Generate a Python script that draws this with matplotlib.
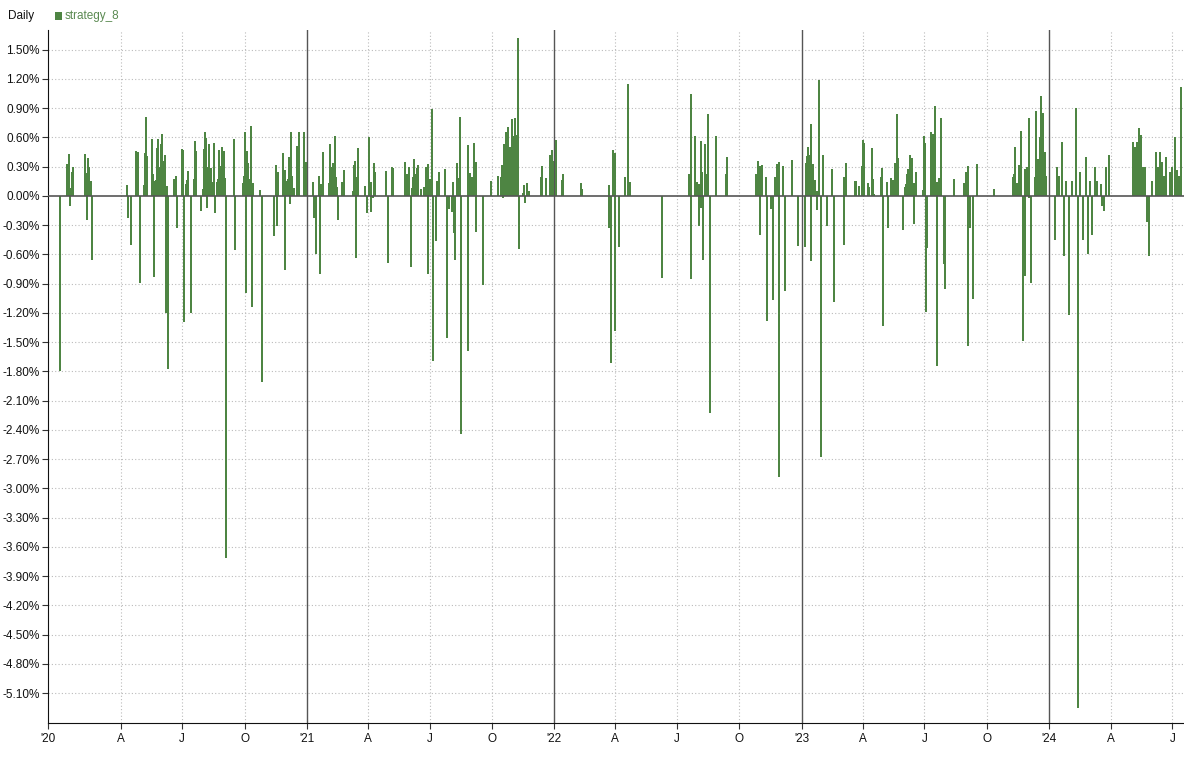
import numpy as np
import pandas as pd
import matplotlib
matplotlib.use('Agg')
import matplotlib.pyplot as plt
from matplotlib.patches import Rectangle

plt.rcParams['font.family'] = ['Liberation Sans', 'DejaVu Sans']

# 日收益 (%)，日期为距 2020-01-01 的天数
days_2020 = [1, 12, 14, 15, 17, 18, 20, 21, 39, 40, 42, 43, 45, 46, 48, 49,
             101, 102, 107, 114, 116, 117, 119, 126, 127, 129, 130, 138, 139, 141, 142, 144,
             145, 147, 148, 150, 151, 152, 154, 155, 157, 158, 160, 161, 170, 173, 175, 182,
             183, 185, 188, 189, 191, 195, 200, 201, 203, 210, 213, 214, 216, 217, 219, 220,
             222, 225, 226, 229, 231, 234, 235, 237, 238, 240, 241, 242, 244, 245, 247, 259,
             260, 271, 272, 273, 275, 276, 278, 279, 281, 282, 284, 285, 287, 297, 299, 318,
             321, 322, 324, 330, 331, 333, 334, 337, 338, 340, 341, 343, 344, 347, 352, 353,
             355, 362, 364, 365]
ret_2020 = [-1.80, 0.33, 0.30, 0.43, -0.10, 0.08, 0.24, 0.30, 0.43, 0.23, -0.25, 0.39, 0.30, 0.11, 0.15, -0.66,
            0.11, -0.23, -0.50, 0.46, 0.42, 0.45, -0.89, 0.11, 0.44, 0.81, 0.41, 0.58, 0.22, -0.83, 0.15, 0.16,
            0.49, 0.58, 0.30, 0.52, 0.53, 0.63, 0.30, 0.36, 0.42, -1.20, 0.10, -1.78, 0.17, 0.20, -0.33, 0.48,
            0.47, -1.29, 0.12, 0.16, 0.26, -1.20, 0.17, 0.56, 0.46, -0.15, 0.07, 0.48, 0.65, 0.59, -0.12, 0.30,
            0.53, 0.29, 0.14, 0.54, -0.18, 0.14, 0.17, 0.47, 0.31, 0.50, 0.31, 0.28, 0.46, 0.18, -3.71, 0.58,
            -0.55, 0.13, 0.13, 0.20, 0.65, -1.00, 0.46, 0.34, 0.17, 0.15, 0.72, -1.14, 0.13, 0.06, -1.91, -0.41,
            0.32, -0.31, 0.25, 0.10, 0.44, 0.27, -0.76, 0.15, 0.17, 0.40, -0.08, 0.65, 0.20, 0.08, 0.51, 0.34,
            0.65, 0.65, 0.35, 0.06]

days_2021 = [375, 377, 380, 384, 386, 387, 389, 399, 400, 402, 403, 405, 406, 408, 409, 411,
             412, 418, 420, 434, 436, 437, 439, 440, 442, 452, 454, 457, 458, 460, 461, 464,
             465, 467, 482, 483, 485, 491, 492, 493, 510, 511, 513, 516, 517, 519, 521, 523,
             524, 526, 527, 529, 530, 535, 539, 541, 542, 544, 545, 547, 548, 550, 551, 552,
             557, 558, 560, 561, 570, 572, 576, 580, 582, 583, 585, 588, 589, 591, 592, 594,
             603, 604, 607, 609, 610, 612, 613, 615, 616, 626, 637, 648, 653, 654, 656, 657,
             659, 660, 662, 663, 665, 666, 668, 669, 671, 673, 675, 676, 678, 679, 685, 687,
             688, 690, 691, 693, 712, 713, 718, 724, 725, 727, 728, 729]
ret_2021 = [0.14, -0.23, -0.60, 0.20, -0.80, 0.12, 0.45, 0.13, 0.53, 0.30, 0.12, 0.34, 0.14, 0.61, 0.19, 0.09,
            -0.25, 0.14, 0.27, 0.05, 0.32, 0.36, -0.64, 0.19, 0.49, 0.10, -0.18, 0.60, 0.06, -0.17, 0.14, -0.02,
            0.34, 0.25, 0.15, 0.26, -0.69, 0.18, 0.30, 0.29, 0.35, 0.12, 0.22, 0.24, 0.30, -0.73, 0.08, 0.19,
            0.38, 0.16, 0.22, 0.29, 0.32, 0.07, 0.09, 0.30, 0.23, -0.80, 0.33, 0.13, 0.17, 0.89, 0.24, -1.69,
            -0.46, 0.15, 0.14, 0.25, 0.28, -1.46, -0.13, -0.17, 0.14, -0.38, -0.66, 0.34, 0.13, 0.18, 0.81, -2.44,
            0.52, -1.59, 0.23, 0.19, 0.07, 0.36, 0.54, 0.35, -0.37, -0.91, 0.15, 0.20, 0.19, 0.32, -0.02, 0.53,
            0.42, 0.65, 0.52, 0.71, 0.18, 0.50, 0.11, 0.79, 0.61, 0.80, 0.40, 0.62, 1.62, -0.54, 0.03, 0.11,
            -0.07, 0.12, 0.13, 0.05, 0.19, 0.31, 0.18, 0.40, 0.42, 0.47, 0.31, 0.36]

days_2022 = [733, 734, 743, 744, 771, 772, 811, 812, 814, 817, 818, 820, 821, 827, 836, 840,
             842, 890, 930, 932, 933, 939, 941, 942, 944, 945, 947, 948, 949, 951, 954, 955,
             957, 958, 960, 970, 985, 986, 1029, 1031, 1032, 1034, 1035, 1037, 1038, 1044, 1045, 1050,
             1053, 1057, 1060, 1062, 1063, 1068, 1069, 1071, 1081, 1090]
ret_2022 = [0.57, 0.38, 0.16, 0.22, 0.13, 0.07, -0.33, 0.11, -1.71, 0.12, 0.47, 0.44, -1.39, -0.52, 0.19, 1.15,
            0.14, -0.84, 0.22, 1.04, -0.85, 0.61, 0.14, 0.14, -0.31, 0.12, 0.56, -0.12, 0.25, -0.66, 0.53, 0.22,
            0.75, 0.84, -2.23, 0.61, 0.22, 0.40, 0.22, 0.36, 0.11, 0.31, -0.40, 0.32, 0.26, 0.19, -1.28, -0.13,
            -1.07, 0.19, 0.33, 0.35, -2.88, 0.31, 0.12, -0.98, 0.37, -0.51]

days_2023 = [1101, 1103, 1104, 1106, 1107, 1109, 1110, 1112, 1116, 1118, 1119, 1121, 1122, 1124, 1127, 1134,
             1140, 1141, 1143, 1158, 1159, 1161, 1175, 1176, 1181, 1185, 1187, 1188, 1194, 1196, 1199, 1201,
             1203, 1213, 1215, 1216, 1222, 1224, 1227, 1228, 1231, 1233, 1234, 1236, 1237, 1238, 1246, 1249,
             1250, 1252, 1253, 1255, 1256, 1258, 1259, 1261, 1262, 1264, 1275, 1277, 1278, 1280, 1281, 1286,
             1287, 1289, 1290, 1292, 1293, 1295, 1296, 1298, 1299, 1300, 1302, 1306, 1308, 1321, 1336, 1338,
             1339, 1341, 1342, 1344, 1349, 1354, 1380, 1407, 1409, 1410, 1413, 1414, 1416, 1417, 1419, 1420,
             1422, 1425, 1426, 1429, 1431, 1432, 1434, 1435, 1440, 1441, 1442, 1444, 1445, 1447, 1448, 1449,
             1451, 1452, 1454, 1455, 1457]
ret_2023 = [-0.52, 0.34, 0.41, 0.50, 0.42, 0.74, -0.67, 0.33, 0.16, 0.05, -0.14, 0.61, 1.19, -2.68, 0.42, -0.31,
            0.28, 0.23, -1.09, 0.19, -0.50, 0.34, 0.15, 0.15, 0.10, 0.31, 0.57, 0.54, 0.13, 0.09, 0.49, 0.17,
            0.02, 0.19, 0.29, -1.33, 0.14, -0.33, 0.18, 0.17, 0.16, 0.06, 0.34, 0.49, 0.84, 0.39, -0.35, 0.09,
            0.12, 0.22, 0.28, 0.23, 0.42, 0.39, 0.33, -0.29, 0.13, 0.24, 0.06, 0.61, 0.54, -1.19, -0.53, 0.65,
            0.57, 0.22, 0.63, 0.72, 0.92, -1.74, 0.14, 0.18, 0.15, 0.17, 0.80, -0.70, -0.95, 0.17, 0.13, 0.11,
            0.24, 0.31, -1.54, -0.33, -1.06, 0.33, 0.07, 0.19, 0.22, 0.50, 0.13, 0.13, 0.32, 0.28, 0.14, 0.67,
            -1.49, 0.28, -0.82, 0.30, -0.02, 0.80, -0.72, -0.89, 0.19, 0.67, 0.87, 0.38, 0.35, 0.27, 0.60, 1.02,
            0.45, 0.85, 0.30, 0.45, 0.20]

days_2024 = [1470, 1473, 1476, 1480, 1483, 1486, 1491, 1495, 1500, 1503, 1507, 1511, 1516, 1519, 1522, 1525,
             1528, 1531, 1537, 1539, 1542, 1545, 1550, 1585, 1587, 1588, 1590, 1591, 1593, 1594, 1596, 1597,
             1599, 1600, 1603, 1606, 1609, 1613, 1618, 1619, 1621, 1622, 1625, 1627, 1628, 1631, 1634, 1640,
             1643, 1646, 1649, 1652, 1655]
ret_2024 = [-0.45, 0.30, 0.20, 0.55, -0.62, 0.15, -1.22, 0.15, 0.90, -5.25, 0.25, -0.45, 0.40, -0.60, 0.15, -0.40,
            0.30, 0.15, 0.12, -0.10, -0.16, 0.30, 0.42, 0.55, 0.50, 0.30, 0.55, 0.40, 0.35, 0.70, 0.62, 0.45,
            0.30, 0.20, 0.30, -0.27, -0.62, 0.15, 0.45, 0.35, 0.30, 0.20, 0.45, 0.30, 0.35, 0.20, 0.40, 0.25,
            0.30, 0.60, 0.27, 0.20, 1.12]

days = np.array(days_2020 + days_2021 + days_2022 + days_2023 + days_2024)
rets = np.array(ret_2020 + ret_2021 + ret_2022 + ret_2023 + ret_2024)
dates = pd.Timestamp('2020-01-01') + pd.to_timedelta(days, unit='D')

green = '#4e8543'

fig = plt.figure(figsize=(11.84, 7.61), dpi=100)
ax = fig.add_axes([48 / 1184, 1 - 723 / 761, 1 - 48 / 1184, (723 - 30) / 761])

# 柱子：每天一根，宽约 1.5 像素
ax.vlines(dates, 0, rets, colors=green, linewidth=1.1, antialiased=False, zorder=3)
ax.axhline(0, color='#555555', linewidth=1.2, zorder=4)

x_left = pd.Timestamp('2019-12-16')
x_right = pd.Timestamp('2024-07-18')
ax.set_xlim(x_left, x_right)
ax.set_ylim(-5.405, 1.701)

# 横向网格 + y 轴刻度
yticks = np.round(np.arange(-17, 6) * 0.3, 2)
ax.set_yticks(yticks)
ax.set_yticklabels([f'{v:.2f}%' for v in yticks])
for v in yticks:
    if v != 0:
        ax.axhline(v, color='#bbbbbb', linestyle=(0, (1, 2)), linewidth=0.8, zorder=1)

# 季度竖线和年份线
quarters = pd.date_range('2020-04-01', '2024-07-01', freq='QS')
xticks = [x_left]
xlabels = ["'20"]
for q in quarters:
    if q.month == 1:
        ax.axvline(q, color='#555555', linewidth=1.0, zorder=2)
        xlabels.append("'" + q.strftime('%y'))
    else:
        ax.axvline(q, color='#bbbbbb', linestyle=(0, (1, 2)), linewidth=0.8, zorder=1)
        xlabels.append({4: 'A', 7: 'J', 10: 'O'}[q.month])
    xticks.append(q)
ax.set_xticks(xticks)
ax.set_xticklabels(xlabels)

ax.tick_params(axis='both', labelsize=8.5, length=4, color='#333333', labelcolor='#111111')
ax.tick_params(axis='x', pad=3)
ax.tick_params(axis='y', pad=2)
for s in ['top', 'right']:
    ax.spines[s].set_visible(False)
ax.spines['left'].set_color('#111111')
ax.spines['bottom'].set_color('#111111')

# 图例
fig.text(8 / 1184, 1 - 16 / 761, 'Daily', fontsize=8.5, va='center', ha='left', color='#111111')
fig.patches.append(Rectangle((55 / 1184, 1 - 20 / 761), 7 / 1184, 8 / 761,
                             transform=fig.transFigure, facecolor=green, edgecolor='none'))
fig.text(65 / 1184, 1 - 16 / 761, 'strategy_8', fontsize=8.5, va='center', ha='left', color='#5b8a52')

fig.savefig('out.png', dpi=100)
